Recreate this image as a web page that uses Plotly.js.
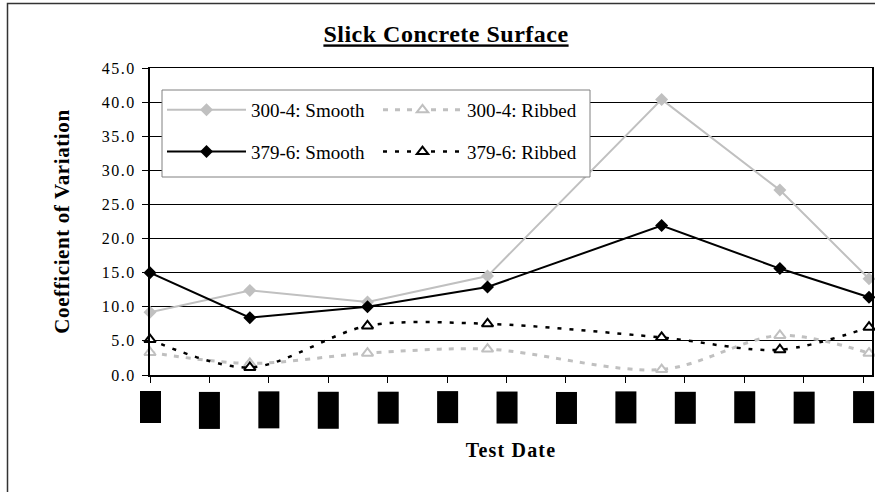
<!DOCTYPE html>
<html>
<head>
<meta charset="utf-8">
<script src="https://cdn.plot.ly/plotly-3.0.1.min.js"></script>
<style>
  html, body { margin: 0; padding: 0; background: #fff; }
  #chart { width: 875px; height: 492px; }
  #chart .gtitle { letter-spacing: 0.5px; text-decoration-thickness: 2.5px; }
  #chart .ytitle { letter-spacing: 0.6px; }
  #chart .xtitle { letter-spacing: 1.2px; }
  #chart .ytick text { letter-spacing: 1.5px; }
</style>
</head>
<body>
<div id="chart"></div>
<script>
// ---- data ----
const testX = [0, 1.68, 3.66, 5.68, 8.61, 10.60, 12.10];
const smooth300 = [9.2, 12.4, 10.7, 14.5, 40.4, 27.1, 14.1];
const ribbed300 = [3.3, 1.7, 3.2, 3.8, 0.8, 5.8, 3.2];
const smooth379 = [15.0, 8.4, 10.0, 12.9, 21.9, 15.6, 11.4];
const ribbed379 = [5.2, 1.1, 7.2, 7.5, 5.5, 3.7, 7.0];
const seriesNames = ['300-4: Smooth', '300-4: Ribbed', '379-6: Smooth', '379-6: Ribbed'];
const tickPositions = [0, 1, 2, 3, 4, 5, 6, 7, 8, 9, 10, 11, 12];
const tickLabels = ['9/15/04', '10/15/04', '11/15/04', '12/15/04', '1/15/05', '2/15/05', '3/15/05',
                    '4/15/05', '5/15/05', '6/15/05', '7/15/05', '8/15/05', '9/15/05'];

// ---- geometry helpers (plot area: left 150, right 872, top 68, bottom 375) ----
const W = 875, H = 492;
const M = {l: 150, r: 3, t: 68, b: 117};
const PW = W - M.l - M.r, PH = H - M.t - M.b;
const px = v => (v - M.l) / PW;   // pixel x -> paper x
const py = v => (H - M.b - v) / PH; // pixel y -> paper y

const GRAY = '#C0C0C0';
const FONT = 'Liberation Serif, Times New Roman, serif';

const traces = [
  {
    x: testX, y: smooth300, name: seriesNames[0], type: 'scatter', mode: 'lines+markers',
    line: {color: GRAY, width: 2},
    marker: {symbol: 'diamond', size: 10, color: GRAY},
    legend: 'legend', legendgroup: 'g1', cliponaxis: false
  },
  {
    x: testX, y: ribbed300, name: seriesNames[1], type: 'scatter', mode: 'lines+markers',
    line: {color: GRAY, width: 3, dash: '5px,7px', shape: 'spline', smoothing: 0.9},
    marker: {symbol: 'triangle-up', size: 10, color: '#ffffff', line: {color: GRAY, width: 2}},
    legend: 'legend2', legendgroup: 'g2', cliponaxis: false
  },
  {
    x: testX, y: smooth379, name: seriesNames[2], type: 'scatter', mode: 'lines+markers',
    line: {color: '#000000', width: 2},
    marker: {symbol: 'diamond', size: 10, color: '#000000'},
    legend: 'legend', legendgroup: 'g3', cliponaxis: false
  },
  {
    x: testX, y: ribbed379, name: seriesNames[3], type: 'scatter', mode: 'lines+markers',
    line: {color: '#000000', width: 2.5, dash: '4px,8px', shape: 'spline', smoothing: 0.9},
    marker: {symbol: 'triangle-up', size: 10, color: '#ffffff', line: {color: '#000000', width: 2}},
    legend: 'legend2', legendgroup: 'g4', cliponaxis: false
  }
];

const tickBoxes = tickLabels.map((t, i) => ({
  x: tickPositions[i], xref: 'x',
  y: py(391), yref: 'paper',
  xanchor: 'center', yanchor: 'top',
  text: t, textangle: -90, showarrow: false,
  font: {family: FONT, size: 9.5, color: '#000000'},
  bgcolor: '#000000', borderpad: 1, height: 18
}));

const legendCommon = {
  xanchor: 'left', yanchor: 'top',
  bgcolor: 'rgba(0,0,0,0)', borderwidth: 0,
  font: {family: FONT, size: 19, color: '#000000'},
  itemwidth: 79, tracegroupgap: 14, orientation: 'v'
};

const layout = {
  width: W, height: H,
  margin: M,
  paper_bgcolor: '#ffffff', plot_bgcolor: '#ffffff',
  font: {family: FONT, size: 16, color: '#000000'},
  showlegend: true,
  title: {
    text: 'Slick Concrete Surface',
    font: {family: FONT, size: 24, weight: 'bold', color: '#000000', lineposition: 'under'},
    x: 446 / W, xref: 'container', xanchor: 'center',
    y: 1 - 34 / H, yref: 'container', yanchor: 'middle'
  },
  xaxis: {
    range: [0, 12.15],
    tickmode: 'array', tickvals: tickPositions, showticklabels: false,
    ticks: 'outside', ticklen: 6, tickwidth: 1, tickcolor: '#000000',
    showgrid: false, zeroline: false,
    showline: true, mirror: true, linecolor: '#000000', linewidth: 1.5,
    title: {text: 'Test Date', font: {family: FONT, size: 20, weight: 'bold', color: '#000000'}, standoff: 61}
  },
  yaxis: {
    range: [0, 45], dtick: 5, tick0: 0, tickformat: '.1f',
    ticks: 'outside', ticklen: 6, tickwidth: 1, tickcolor: '#000000',
    tickfont: {family: FONT, size: 16, color: '#000000'},
    ticklabelstandoff: 3,
    showgrid: true, gridcolor: '#000000', gridwidth: 1,
    zeroline: false,
    showline: true, mirror: true, linecolor: '#000000', linewidth: 2,
    title: {text: 'Coefficient of Variation', font: {family: FONT, size: 21, weight: 'bold', color: '#000000'}, standoff: 32}
  },
  legend: Object.assign({x: px(162), y: py(91)}, legendCommon),
  legend2: Object.assign({x: px(378), y: py(91)}, legendCommon),
  shapes: [
    {type: 'rect', xref: 'paper', yref: 'paper', layer: 'above',
     x0: px(162), x1: px(590), y0: py(177), y1: py(90),
     line: {color: '#808080', width: 1}, fillcolor: '#ffffff'},
    {type: 'rect', xref: 'paper', yref: 'paper', layer: 'below',
     x0: px(7.5), x1: px(885), y0: py(505), y1: py(3.5),
     line: {color: '#333333', width: 1.5}, fillcolor: 'rgba(0,0,0,0)'}
  ],
  annotations: tickBoxes
};

Plotly.newPlot('chart', traces, layout, {displayModeBar: false, staticPlot: true});
</script>
</body>
</html>
